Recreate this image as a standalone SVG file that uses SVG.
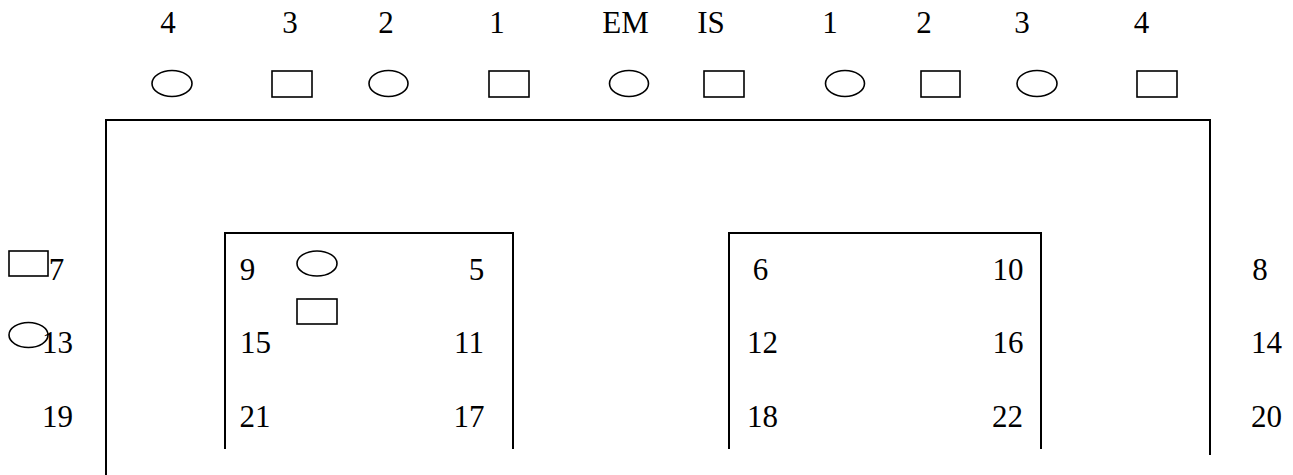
<svg xmlns="http://www.w3.org/2000/svg" width="1293" height="475" viewBox="0 0 1293 475">
<style>
text{font-family:"Liberation Serif","Times New Roman",serif;font-size:31px;fill:#000;text-anchor:middle}
.sh{fill:none;stroke:#000;stroke-width:1.6}
.fr{fill:none;stroke:#000;stroke-width:2}
</style>
<rect width="1293" height="475" fill="#fff"/>
<g id="frame">
<path class="fr" d="M106 475V120H1210V455"/>
<path class="fr" d="M225 449V233H513V449"/>
<path class="fr" d="M729 449V233H1041V449"/>
</g>
<g id="top-labels">
<text x="168" y="33">4</text>
<text x="290" y="33">3</text>
<text x="386" y="33">2</text>
<text x="497" y="33">1</text>
<text x="625.5" y="33">EM</text>
<text x="711" y="33">IS</text>
<text x="830" y="33">1</text>
<text x="924" y="33">2</text>
<text x="1022" y="33">3</text>
<text x="1141.5" y="33">4</text>
</g>
<g id="top-shapes">
<ellipse class="sh" cx="172" cy="83.5" rx="20" ry="13"/>
<rect class="sh" x="272" y="71" width="40" height="26"/>
<ellipse class="sh" cx="388.5" cy="83.5" rx="19.5" ry="13"/>
<rect class="sh" x="489" y="71" width="40" height="26"/>
<ellipse class="sh" cx="629" cy="83.5" rx="19.5" ry="13"/>
<rect class="sh" x="704" y="71" width="40" height="26"/>
<ellipse class="sh" cx="845" cy="83.5" rx="19.5" ry="13"/>
<rect class="sh" x="921" y="71" width="39" height="26"/>
<ellipse class="sh" cx="1037" cy="83.5" rx="20" ry="13"/>
<rect class="sh" x="1137" y="71" width="40" height="26"/>
</g>
<g id="left-side">
<rect class="sh" x="9" y="251" width="39" height="25"/>
<text x="56.5" y="280">7</text>
<ellipse class="sh" cx="28.5" cy="335" rx="19.5" ry="12.5"/>
<text x="57.5" y="353">13</text>
<text x="57.5" y="427">19</text>
</g>
<g id="left-box">
<text x="247.5" y="280">9</text>
<ellipse class="sh" cx="317" cy="263.5" rx="20" ry="12.5"/>
<rect class="sh" x="297" y="299" width="40" height="25"/>
<text x="476.5" y="280">5</text>
<text x="255.5" y="353">15</text>
<text x="469" y="353">11</text>
<text x="255" y="427">21</text>
<text x="469" y="427">17</text>
</g>
<g id="right-box">
<text x="760.5" y="280">6</text>
<text x="1008" y="280">10</text>
<text x="762.5" y="353">12</text>
<text x="1008" y="353">16</text>
<text x="762.5" y="427">18</text>
<text x="1007.5" y="427">22</text>
</g>
<g id="right-side">
<text x="1260" y="280">8</text>
<text x="1266.5" y="353">14</text>
<text x="1266.5" y="427">20</text>
</g>
</svg>
